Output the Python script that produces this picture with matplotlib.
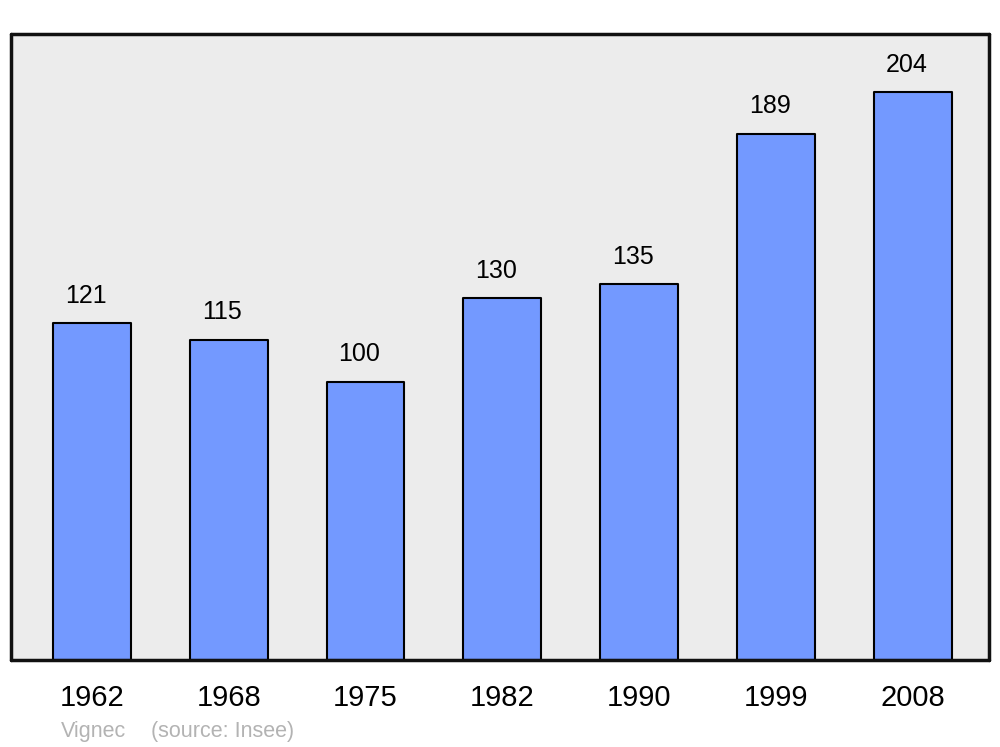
import matplotlib.pyplot as plt

plt.rcParams['font.family'] = ['Liberation Sans', 'DejaVu Sans']

years = ['1962', '1968', '1975', '1982', '1990', '1999', '2008']
population = [121, 115, 100, 130, 135, 189, 204]

bar_color = '#7399ff'
bg_color = '#ececec'

fig = plt.figure(figsize=(10, 7.47), dpi=100)
ax = fig.add_axes([0.011, 0.1165, 0.978, 0.838])
ax.set_facecolor(bg_color)

x = list(range(len(years)))
bars = ax.bar(x, population, width=0.57, color=bar_color, edgecolor='black',
              linewidth=1.5, joinstyle='round', zorder=2)

for xi, v in zip(x, population):
    ax.annotate(str(v), (xi, v), xytext=(-4.5, 11), textcoords='offset points',
                ha='center', va='bottom', fontsize=18)

ax.set_xlim(-0.592, 6.559)
ax.set_ylim(0, 224.8)
ax.set_xticks(x)
ax.set_xticklabels(years, fontsize=21)
ax.tick_params(axis='x', length=0, pad=17)
ax.set_yticks([])

for s in ax.spines.values():
    s.set_linewidth(2.5)
    s.set_capstyle('round')
    s.set_joinstyle('round')
    s.set_color('#111111')

fig.text(0.061, 0.013, 'Vignec', fontsize=15.5, color='#b3b3b3')
fig.text(0.151, 0.013, '(source: Insee)', fontsize=15.5, color='#b3b3b3')

fig.savefig('out.png', dpi=100)
